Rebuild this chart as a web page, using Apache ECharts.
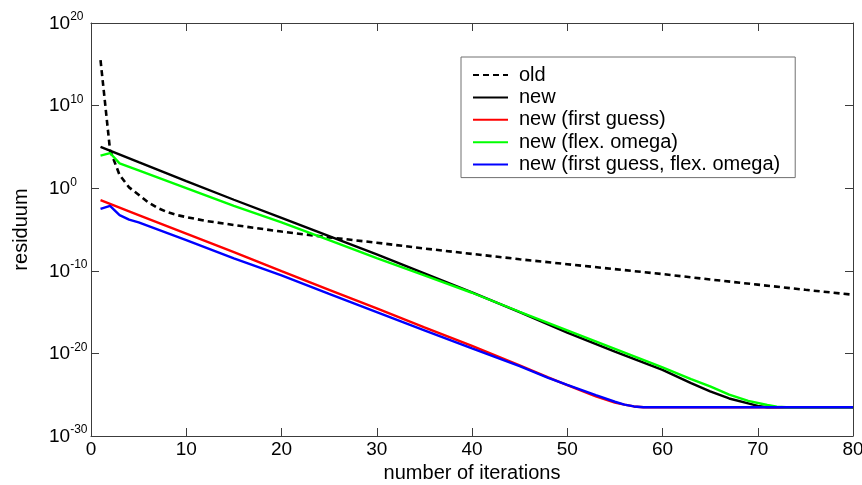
<!DOCTYPE html>
<html>
<head>
<meta charset="utf-8">
<script src="https://cdn.jsdelivr.net/npm/echarts@6/dist/echarts.min.js"></script>
<style>
html,body{margin:0;padding:0;background:#fff;}
#chart{width:862px;height:485px;}
</style>
</head>
<body>
<div id="chart"></div>
<script>
// ---- data ----
const seriesNames = ['old', 'new', 'new (first guess)', 'new (flex. omega)', 'new (first guess, flex. omega)'];

const iterOld = [1,2,3,4,5,6,7,8,9,10,12,15,20,25,30,35,40,45,50,55,60,65,70,75,80];
const resOld = [3.2e15,4.0e4,40,1.26,0.16,0.02,4.0e-3,1.26e-3,5.6e-4,3.2e-4,1.12e-4,3.5e-5,5.6e-6,1.12e-6,2.5e-7,5.0e-8,1.12e-8,2.5e-9,6.3e-10,1.6e-10,4.0e-11,8.9e-12,2.1e-12,5.0e-13,1.26e-13];

const iterNew = [1,5,10,15,20,25,30,35,40,45,50,55,60,63,65,67,69,70,71,80];
const resNew = [1.0e5,1.4e3,7.1,0.04,2.5e-4,1.6e-6,1.0e-8,5.0e-11,2.5e-13,1.0e-15,3.2e-18,1.6e-20,1.0e-22,2.5e-24,2.5e-25,3.5e-26,8.9e-27,4.5e-27,3.0e-27,3.0e-27];

const iterFirstGuess = [1,2,5,10,15,20,25,30,35,40,45,48,50,53,55,56,57,58,80];
const resFirstGuess = [3.5e-2,1.26e-2,5.6e-4,3.2e-6,1.8e-8,8.9e-11,5.0e-13,2.8e-15,1.4e-17,7.9e-20,3.5e-22,1.26e-23,1.4e-24,6.3e-26,1.12e-26,6.3e-27,3.8e-27,3.0e-27,3.0e-27];

const iterFlex = [1,2,3,5,10,15,20,25,30,35,40,45,50,55,60,63,65,67,69,71,72,73,80];
const resFlex = [8.9e3,1.8e4,1.0e3,1.4e2,1.0,7.1e-3,7.1e-5,5.0e-7,3.5e-9,2.8e-11,2.2e-13,1.1e-15,6.3e-18,3.5e-20,2.0e-22,7.9e-24,1.0e-24,1.0e-25,1.8e-26,5.6e-27,3.5e-27,3.0e-27,3.0e-27];

const iterBoth = [1,2,3,4,5,10,15,20,25,30,35,40,45,48,50,53,55,56,57,58,80];
const resBoth = [3.2e-3,7.1e-3,5.6e-4,1.6e-4,7.1e-5,5.0e-7,3.2e-9,2.8e-11,1.6e-13,1.0e-15,6.3e-18,4.0e-20,2.8e-22,1.12e-23,1.6e-24,8.9e-26,1.4e-26,6.3e-27,3.8e-27,3.0e-27,3.0e-27];

const xMin = 0, xMax = 80, xStep = 10;
const yMin = 1e-30, yMax = 1e20;      // ticks at 10^-30 ... 10^20, every 10 decades
const yMinExponent = -30;
const xName = 'number of iterations';
const yName = 'residuum';

// ---- chart ----
const FONT = 'Liberation Sans, Arial, sans-serif';
const AXIS_COLOR = '#3c3c3c';

function pairs(xs, ys) { return xs.map((x, i) => [x, ys[i]]); }

const chart = echarts.init(document.getElementById('chart'), null, {renderer: 'canvas'});

const tickCommon = {show: true, inside: true, length: 8, lineStyle: {color: AXIS_COLOR, width: 1}};
const lineCommon = {show: true, onZero: false, lineStyle: {color: AXIS_COLOR, width: 1}};
const powRich = {
  b: {fontSize: 19, fontFamily: FONT, color: '#000', lineHeight: 20, verticalAlign: 'bottom'},
  s: {fontSize: 12, fontFamily: FONT, color: '#000', lineHeight: 12, padding: [0, 0, 10, 0], verticalAlign: 'bottom'}
};

const option = {
  backgroundColor: '#fff',
  animation: false,
  grid: {left: 91, right: 9, top: 23, bottom: 49, outerBoundsMode: 'none'},
  legend: {
    orient: 'vertical',
    left: 461, top: 57,
    data: seriesNames,
    backgroundColor: '#fff',
    borderColor: '#707070',
    borderWidth: 1,
    borderRadius: 0,
    padding: [8, 15, 3, 11],
    itemWidth: 35,
    itemHeight: 10,
    itemGap: 2.4,
    itemStyle: {opacity: 0},
    textStyle: {fontSize: 20, fontFamily: FONT, color: '#000', padding: [0, 0, 0, 6]}
  },
  xAxis: [{
    type: 'value', min: xMin, max: xMax, interval: xStep,
    name: xName, nameLocation: 'middle', nameGap: 25,
    nameTextStyle: {fontSize: 20, fontFamily: FONT, color: '#000'},
    axisLine: lineCommon, axisTick: tickCommon,
    axisLabel: {fontSize: 19, fontFamily: FONT, color: '#000', margin: 4},
    splitLine: {show: false}
  }, {
    type: 'value', min: xMin, max: xMax, interval: xStep, position: 'top',
    axisLine: lineCommon, axisTick: tickCommon,
    axisLabel: {show: false}, splitLine: {show: false}
  }],
  yAxis: [{
    type: 'log', logBase: 10, min: yMin, max: yMax, splitNumber: 5,
    name: yName, nameLocation: 'middle', nameGap: 60, nameRotate: 90,
    nameMoveOverlap: false,
    nameTextStyle: {fontSize: 20, fontFamily: FONT, color: '#000'},
    axisLine: lineCommon, axisTick: tickCommon,
    axisLabel: {
      margin: 42, align: 'left', color: '#000', fontFamily: FONT,
      showMaxLabel: true, hideOverlap: false,
      formatter: function (v) {
        if (!(v > 0)) return '';
        const e = Math.round(Math.log10(v));
        if (!isFinite(e)) return '';
        return '{b|10}{s|' + e + '}';
      },
      rich: powRich
    },
    splitLine: {show: false}
  }, {
    type: 'log', logBase: 10, min: yMin, max: yMax, splitNumber: 5, position: 'right',
    axisLine: lineCommon, axisTick: tickCommon,
    axisLabel: {show: false}, splitLine: {show: false}
  }],
  series: [
    {name: seriesNames[0], type: 'line', data: pairs(iterOld, resOld), symbol: 'none',
     lineStyle: {color: '#000', width: 2.6, type: [6, 4]}, itemStyle: {color: '#000'}, z: 2},
    {name: seriesNames[1], type: 'line', data: pairs(iterNew, resNew), symbol: 'none',
     lineStyle: {color: '#000', width: 2.4}, itemStyle: {color: '#000'}, z: 3},
    {name: seriesNames[2], type: 'line', data: pairs(iterFirstGuess, resFirstGuess), symbol: 'none',
     lineStyle: {color: '#ff0000', width: 2.4}, itemStyle: {color: '#ff0000'}, z: 4},
    {name: seriesNames[3], type: 'line', data: pairs(iterFlex, resFlex), symbol: 'none',
     lineStyle: {color: '#00ff00', width: 2.4}, itemStyle: {color: '#00ff00'}, z: 5},
    {name: seriesNames[4], type: 'line', data: pairs(iterBoth, resBoth), symbol: 'none',
     lineStyle: {color: '#0000ff', width: 2.4}, itemStyle: {color: '#0000ff'}, z: 6}
  ]
};
chart.setOption(option);

// The lowest log tick (10^-30) label is lost to rounding inside the log scale;
// place it at the axis position that the library computes for yMin.
let yBottom = chart.convertToPixel({yAxisIndex: 0}, yMin);
if (!isFinite(yBottom)) yBottom = chart.getHeight() - 49;
chart.setOption({
  graphic: [{
    type: 'text', x: 49, y: yBottom, silent: true,
    style: {
      text: '{b|10}{s|' + yMinExponent + '}', rich: powRich,
      align: 'left', verticalAlign: 'middle', fill: '#000', fontFamily: FONT
    }
  }]
});
</script>
</body>
</html>
